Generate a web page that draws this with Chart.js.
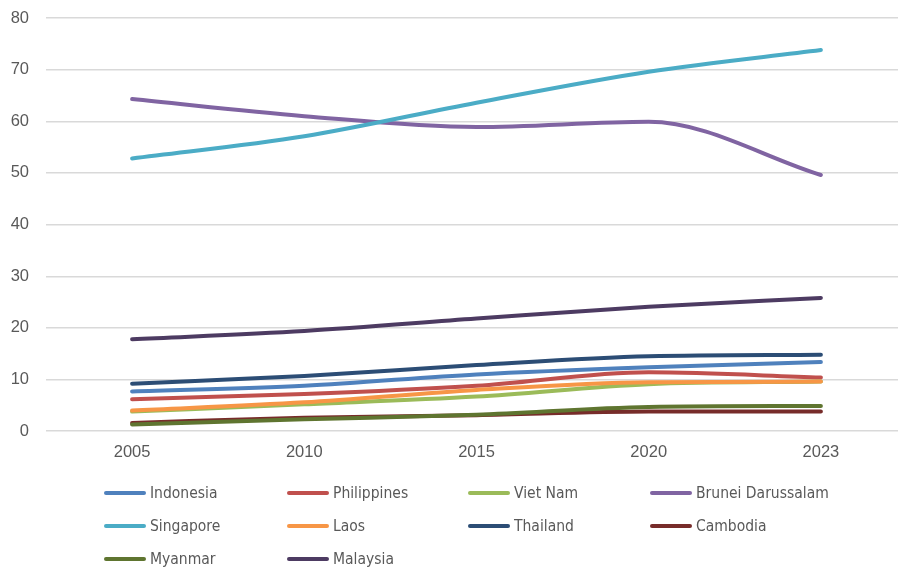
<!DOCTYPE html>
<html>
<head>
<meta charset="utf-8">
<script src="https://cdn.jsdelivr.net/npm/chart.js@4.4.1/dist/chart.umd.min.js"></script>
<style>
  html, body { margin: 0; padding: 0; background: #fff; overflow: hidden; }
  #wrap { position: relative; width: 898px; height: 568px; overflow: hidden; }
  #chart { position: absolute; left: 0; top: 0; }
  #legend { position: absolute; left: 0; top: 0; width: 898px; height: 568px; pointer-events: none; }
  .item { position: absolute; height: 20px; display: flex; align-items: center;
          font-family: 'Liberation Sans Narrow', 'DejaVu Sans Condensed', sans-serif;
          font-size: 15.5px; color: #595959; white-space: nowrap; }
  .swatch { width: 42px; height: 4px; margin-right: 4px; border-radius: 2px; }
</style>
</head>
<body>
<div id="wrap">
  <canvas id="chart" width="910" height="481"></canvas>
  <div id="legend"></div>
</div>
<script>
// Years on the x axis
const years = ['2005', '2010', '2015', '2020', '2023'];

// Series values
const countries = ['Indonesia', 'Philippines', 'Viet Nam', 'Brunei Darussalam', 'Singapore',
                   'Laos', 'Thailand', 'Cambodia', 'Myanmar', 'Malaysia'];
const indonesia   = [7.7, 8.8, 11.0, 12.4, 13.4];
const philippines = [6.2, 7.2, 8.8, 11.4, 10.4];
const vietNam     = [3.8, 5.2, 6.7, 9.1, 9.6];
const brunei      = [64.3, 61.0, 58.9, 59.9, 49.6];
const singapore   = [52.8, 57.1, 63.6, 69.6, 73.8];
const laos        = [4.0, 5.6, 8.0, 9.5, 9.6];
const thailand    = [9.2, 10.7, 12.8, 14.5, 14.8];
const cambodia    = [1.6, 2.6, 3.1, 3.8, 3.8];
const myanmar     = [1.3, 2.3, 3.2, 4.7, 4.9];
const malaysia    = [17.8, 19.4, 21.8, 24.1, 25.8];

const seriesValues = [indonesia, philippines, vietNam, brunei, singapore,
                      laos, thailand, cambodia, myanmar, malaysia];
const colors = ['#4F81BD', '#C0504D', '#9BBB59', '#8064A2', '#4BACC6',
                '#F79646', '#2C4D75', '#772C2A', '#5F7530', '#4D3B62'];

// y axis ticks
const yMin = 0, yMax = 80, yStep = 10;

const datasets = countries.map((name, i) => ({
    label: name,
    data: seriesValues[i],
    borderColor: colors[i],
    backgroundColor: colors[i],
    borderWidth: 4,
    borderCapStyle: 'round',
    pointRadius: 0,
    pointHoverRadius: 0,
    cubicInterpolationMode: 'monotone',
    fill: false,
    order: -i // later series drawn on top, like the original
}));

const tickFont = { family: "'Liberation Sans', Arial, sans-serif", size: 16.5 };

new Chart(document.getElementById('chart'), {
    type: 'line',
    data: { labels: years, datasets: datasets },
    options: {
        responsive: false,
        animation: false,
        events: [],
        layout: { padding: { top: 18, right: 3, bottom: 8, left: 0 } },
        plugins: {
            legend: { display: false },
            tooltip: { enabled: false }
        },
        scales: {
            x: {
                offset: true,
                grid: { display: false, drawTicks: false },
                border: { display: false },
                ticks: { color: '#595959', font: tickFont, padding: 11, maxRotation: 0 }
            },
            y: {
                min: yMin,
                max: yMax,
                afterFit: scale => {
                    scale.width = 46;
                    scale.paddingTop = 0;
                    scale.paddingBottom = 0;
                },
                grid: { color: '#d9d9d9', lineWidth: 1.5, drawTicks: false },
                border: { display: false },
                ticks: { stepSize: yStep, color: '#595959', font: tickFont, padding: 17 }
            }
        }
    }
});

// Legend laid out in four columns like the original
const legendDiv = document.getElementById('legend');
const colX = [104, 287, 468, 650];
const rowY = [483, 516, 549];
countries.forEach((name, i) => {
    const item = document.createElement('div');
    item.className = 'item';
    item.style.left = colX[i % 4] + 'px';
    item.style.top = rowY[Math.floor(i / 4)] + 'px';
    item.innerHTML = `<span class="swatch" style="background:${colors[i]}"></span>${name}`;
    legendDiv.appendChild(item);
});
</script>
</body>
</html>
